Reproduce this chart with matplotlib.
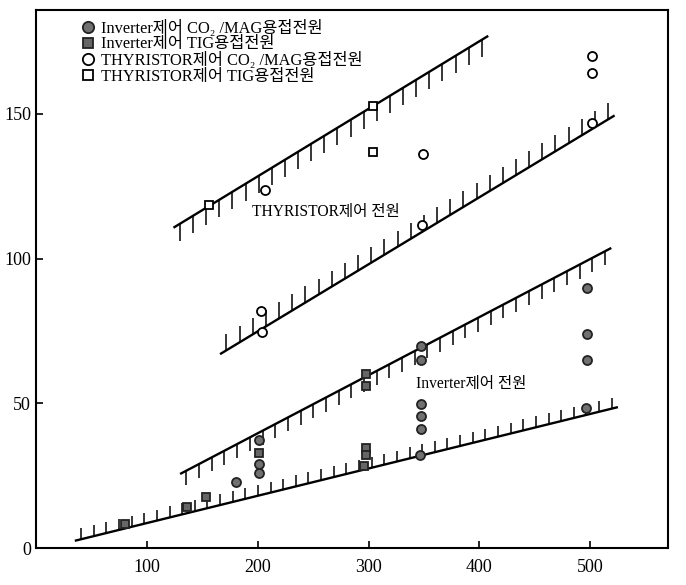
import numpy as np
import matplotlib
matplotlib.use('Agg')
import matplotlib.pyplot as plt
from matplotlib import patheffects

plt.rcParams['font.family'] = ['Liberation Serif', 'Noto Sans CJK KR', 'DejaVu Sans']

# ── boundary lines of the two bands (x, y end points) ──
thy_upper_x = [124, 408]
thy_upper_y = [110.7, 177.0]
thy_lower_x = [166, 522]
thy_lower_y = [67.0, 149.5]
inv_upper_x = [130, 519]
inv_upper_y = [25.6, 103.7]
inv_lower_x = [35, 525]
inv_lower_y = [2.5, 48.7]

# ── measured points ──
inv_co2_x = [180, 201, 201, 201, 347, 347, 347, 347, 347, 346, 497, 497, 497, 496]
inv_co2_y = [22.7, 37.2, 29.0, 26.0, 69.8, 64.9, 49.7, 45.6, 41.2, 32.2, 90.0, 74.0, 64.9, 48.4]
inv_tig_x = [80, 136, 153, 201, 298, 298, 298, 298, 296]
inv_tig_y = [8.2, 14.2, 17.5, 32.7, 60.3, 56.0, 34.5, 32.0, 28.2]
thy_co2_x = [203, 204, 207, 349, 348, 502, 502, 502]
thy_co2_y = [82.0, 74.5, 123.7, 136.1, 111.8, 170.2, 164.2, 146.8]
thy_tig_x = [156, 304, 304]
thy_tig_y = [118.4, 152.7, 137.0]

labels = ['Inverter제어 CO₂ /MAG용접전원',
          'Inverter제어 TIG용접전원',
          'THYRISTOR제어 CO₂ /MAG용접전원',
          'THYRISTOR제어 TIG용접전원']

fig = plt.figure(figsize=(6.86, 5.85), dpi=100)
ax = fig.add_axes([0.0525, 0.0632, 0.921, 0.920])
ax.set_xlim(0, 570)
ax.set_ylim(0, 186)

def band_edge(xs, ys, side, spacing, tick_px):
    # vertical hatch ticks hanging off the line, toward the inside of the band
    p = ax.transData.transform(np.column_stack([xs, ys]))
    theta = np.degrees(np.arctan2(p[1, 1] - p[0, 1], p[1, 0] - p[0, 0]))
    ang = (-90 - theta) if side == 'down' else (90 - theta)
    tick_pt = tick_px * 72 / fig.dpi
    ax.plot(xs, ys, color='black', lw=1.7, solid_capstyle='butt',
            path_effects=[patheffects.withTickedStroke(angle=ang, spacing=spacing,
                                                       length=tick_pt / spacing,
                                                       linewidth=1.1)])

band_edge(thy_upper_x, thy_upper_y, 'down', 10.9, 17)
band_edge(thy_lower_x, thy_lower_y, 'up', 10.9, 16)
band_edge(inv_upper_x, inv_upper_y, 'down', 10.3, 14)
band_edge(inv_lower_x, inv_lower_y, 'up', 9.3, 11)

ax.plot(inv_co2_x, inv_co2_y, 'o', ms=6.5, mfc='#707070', mec='#222222', mew=1.3, ls='none', label=labels[0])
ax.plot(inv_tig_x, inv_tig_y, 's', ms=6, mfc='#666666', mec='#222222', mew=1.3, ls='none', label=labels[1])
ax.plot(thy_co2_x, thy_co2_y, 'o', ms=6.5, mfc='white', mec='black', mew=1.3, ls='none', label=labels[2])
ax.plot(thy_tig_x, thy_tig_y, 's', ms=6, mfc='white', mec='black', mew=1.3, ls='none', label=labels[3])

ax.text(195, 116.3, 'THYRISTOR제어 전원', fontsize=11.2, va='center', ha='left')
ax.text(343, 56.8, 'Inverter제어 전원', fontsize=11.2, va='center', ha='left')

leg = ax.legend(loc='upper left', bbox_to_anchor=(0.058, 1.0), frameon=False,
                fontsize=11.8, handlelength=0.7, handletextpad=0.4,
                labelspacing=-0.02, borderaxespad=0.2, markerscale=1.25)

ax.set_xticks([100, 200, 300, 400, 500])
ax.set_yticks([0, 50, 100, 150])
ax.tick_params(direction='in', length=5, width=1.2, labelsize=13)
ax.tick_params(axis='x', pad=8)
for s in ax.spines.values():
    s.set_linewidth(1.5)

fig.savefig('out.png', dpi=100)
